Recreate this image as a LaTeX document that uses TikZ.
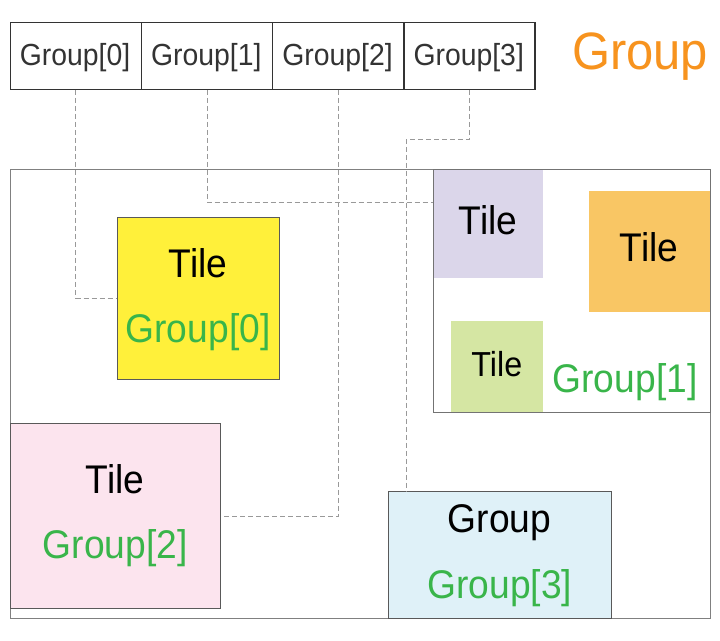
\documentclass[tikz,border=0pt]{standalone}
\usepackage{fontspec}
\setmainfont{Liberation Sans}[FakeStretch=0.93]
\definecolor{hdrtext}{HTML}{333333}
\definecolor{grtext}{HTML}{39B54A}
\definecolor{ortext}{HTML}{F7931E}
\definecolor{cyellow}{HTML}{FFF03A}
\definecolor{clav}{HTML}{DBD6EA}
\definecolor{corange}{HTML}{F9C664}
\definecolor{clgreen}{HTML}{D5E6A3}
\definecolor{cpink}{HTML}{FCE4EE}
\definecolor{cblue}{HTML}{DFF1F8}
\definecolor{conncol}{HTML}{999999}
\tikzset{
  hdrbox/.style={draw=hdrtext, line width=1.4pt, inner sep=0pt, anchor=north west, minimum width=131.2pt, minimum height=66.5pt},
  tilebox/.style={draw=black!65, line width=1pt, inner sep=0pt, anchor=north west},
  plainbox/.style={inner sep=0pt, anchor=north west},
  framebox/.style={draw=black!50, line width=1.1pt, inner sep=0pt, anchor=north west},
  txt/.style={inner sep=0pt, anchor=base},
  hdrtxt/.style={txt, text=hdrtext, font=\fontsize{30.5}{36}\selectfont},
  bigtxt/.style={txt, text=black, font=\fontsize{40}{48}\selectfont},
  grntxt/.style={txt, text=grtext, font=\fontsize{40}{48}\selectfont},
  conn/.style={draw=conncol, line width=0.9pt, dash pattern=on 5pt off 3pt}
}
\begin{document}
\begin{tikzpicture}[x=1pt,y=-1pt]
\useasboundingbox (0,0) rectangle (720,640);
% header
\node[hdrbox] (h0) at (9.5,22) {};
\node[hdrbox] (h1) at (140.7,22) {};
\node[hdrbox] (h2) at (271.9,22) {};
\node[hdrbox] (h3) at (403.1,22) {};
\node[hdrtxt] (h0t) at (75.1,65) {Group[0]};
\node[hdrtxt] (h1t) at (206.3,65) {Group[1]};
\node[hdrtxt] (h2t) at (337.5,65) {Group[2]};
\node[hdrtxt] (h3t) at (468.7,65) {Group[3]};
\node[txt, text=ortext, font=\fontsize{52.6}{60}\selectfont] (title) at (640,69.5) {Group};
% outer frame
\node[framebox, minimum width=700pt, minimum height=449pt] (outer) at (10,169.3) {};
% group 1 frame
\node[framebox, draw=black!55, minimum width=276.7pt, minimum height=243pt] (g1) at (433.3,169.3) {};
\node[plainbox, fill=clav, minimum width=109.4pt, minimum height=108pt] (lav) at (433.3,169.3) {};
\node[plainbox, fill=corange, minimum width=121pt, minimum height=120.7pt] (ora) at (589,191) {};
\node[plainbox, fill=clgreen, minimum width=91.7pt, minimum height=91pt] (lgr) at (451,321) {};
\node[bigtxt] (lavt) at (488,234) {Tile};
\node[bigtxt] (orat) at (649,261.7) {Tile};
\node[txt, text=black, font=\fontsize{34.7}{42}\selectfont] (lgrt) at (496.8,376) {Tile};
\node[grntxt] (g1t) at (625,392.7) {Group[1]};
% group 0 tile
\node[tilebox, fill=cyellow, minimum width=161.7pt, minimum height=162pt] (yel) at (117.3,216.7) {};
\node[bigtxt] (yelt) at (198,277) {Tile};
\node[grntxt] (g0t) at (198,342) {Group[0]};
% group 2 tile
\node[tilebox, fill=cpink, minimum width=209.5pt, minimum height=185pt] (pnk) at (10.2,423.3) {};
\node[bigtxt] (pnkt) at (115,493.3) {Tile};
\node[grntxt] (g2t) at (115.2,558.3) {Group[2]};
% group 3
\node[tilebox, fill=cblue, minimum width=223.3pt, minimum height=126.5pt] (blu) at (387.7,491) {};
\node[bigtxt] (blut) at (499.5,532.3) {Group};
\node[grntxt] (g3t) at (499.7,598.3) {Group[3]};
% connectors
\coordinate (c1) at (433.3,202.3);
\coordinate (c3) at (406.3,139.3);
\draw[conn] (h0.south) |- (yel.west);
\draw[conn] (h1.south) |- (c1);
\draw[conn] (h2.south) |- (pnk.east);
\draw[conn] (h3.south) |- (c3) -- (c3 |- blu.north);
\end{tikzpicture}
\end{document}
